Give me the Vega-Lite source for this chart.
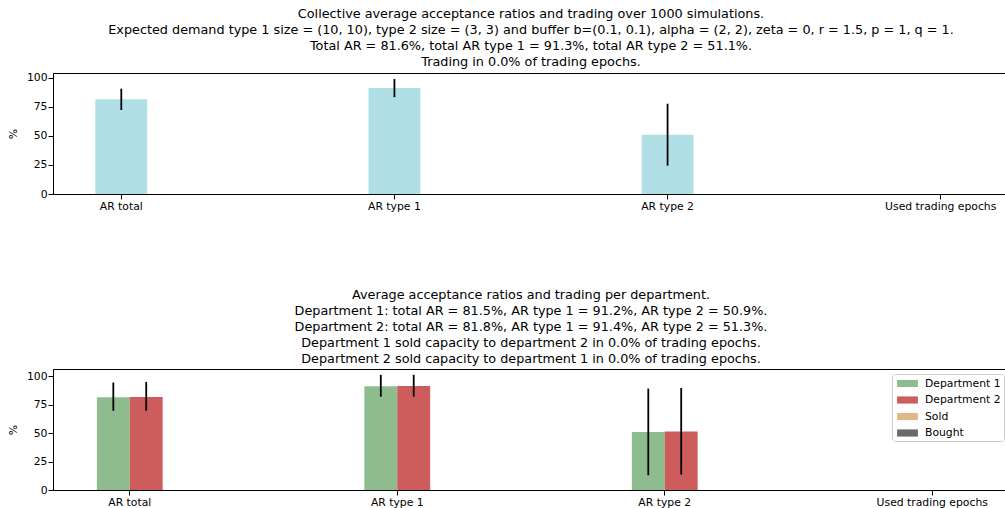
{
  "$schema": "https://vega.github.io/schema/vega-lite/v6.json",
  "padding": {"left": 6, "top": 7, "right": 0, "bottom": 0},
  "background": "white",
  "datasets": {
    "overall": [
      {"metric": "AR total", "value": 81.6, "lo": 72.4, "hi": 90.8},
      {"metric": "AR type 1", "value": 91.3, "lo": 83.5, "hi": 99.1},
      {"metric": "AR type 2", "value": 51.1, "lo": 24.4, "hi": 77.8}
    ],
    "perdept": [
      {"metric": "AR total", "dept": "Department 1", "value": 81.5, "lo": 69.6, "hi": 94.4},
      {"metric": "AR total", "dept": "Department 2", "value": 81.8, "lo": 69.6, "hi": 95.0},
      {"metric": "AR type 1", "dept": "Department 1", "value": 91.2, "lo": 82.0, "hi": 101.2},
      {"metric": "AR type 1", "dept": "Department 2", "value": 91.4, "lo": 82.0, "hi": 101.2},
      {"metric": "AR type 2", "dept": "Department 1", "value": 50.9, "lo": 13.0, "hi": 89.1},
      {"metric": "AR type 2", "dept": "Department 2", "value": 51.3, "lo": 13.5, "hi": 89.6}
    ]
  },
  "spacing": 76,
  "resolve": {"legend": {"color": "independent"}},
  "vconcat": [
    {
      "width": 956,
      "height": 121,
      "data": {"name": "overall"},
      "title": {
        "text": [
          "Collective average acceptance ratios and trading over 1000 simulations.",
          "Expected demand type 1 size = (10, 10), type 2 size = (3, 3) and buffer b=(0.1, 0.1),  alpha = (2, 2), zeta = 0, r = 1.5, p = 1, q = 1.",
          "Total AR = 81.6%, total AR type 1 = 91.3%, total AR type 2 = 51.1%.",
          "Trading in 0.0% of trading epochs."
        ]
      },
      "encoding": {
        "x": {
          "field": "metric",
          "type": "nominal",
          "sort": null,
          "scale": {
            "domain": ["AR total", "AR type 1", "AR type 2", "Used trading epochs"],
            "paddingInner": 0.81,
            "paddingOuter": 0.155
          },
          "axis": {"title": null}
        },
        "y": {
          "field": "value",
          "type": "quantitative",
          "scale": {"domain": [0, 104.3], "nice": false},
          "axis": {"title": "%", "values": [0, 25, 50, 75, 100]}
        }
      },
      "layer": [
        {
          "mark": {"type": "bar", "color": "#b0e0e6"}
        },
        {
          "mark": {"type": "rule", "color": "black", "strokeWidth": 1.8},
          "encoding": {
            "y": {
              "field": "lo",
              "type": "quantitative",
              "scale": {"domain": [0, 104.3], "nice": false},
              "axis": {"title": "%", "values": [0, 25, 50, 75, 100]}
            },
            "y2": {"field": "hi"}
          }
        }
      ]
    },
    {
      "width": 956,
      "height": 121,
      "data": {"name": "perdept"},
      "title": {
        "text": [
          "Average acceptance ratios and trading per department.",
          "Department 1: total AR = 81.5%, AR type 1 = 91.2%, AR type 2 = 50.9%.",
          "Department 2: total AR = 81.8%, AR type 1 = 91.4%, AR type 2 = 51.3%.",
          "Department 1 sold capacity to department 2 in 0.0% of trading epochs.",
          "Department 2 sold capacity to department 1 in 0.0% of trading epochs."
        ]
      },
      "encoding": {
        "x": {
          "field": "metric",
          "type": "nominal",
          "sort": null,
          "scale": {
            "domain": ["AR total", "AR type 1", "AR type 2", "Used trading epochs"],
            "paddingInner": 0.754,
            "paddingOuter": 0.164
          },
          "axis": {"title": null}
        },
        "xOffset": {
          "field": "dept",
          "type": "nominal",
          "scale": {"domain": ["Department 1", "Department 2"], "paddingInner": 0, "paddingOuter": 0}
        },
        "y": {
          "field": "value",
          "type": "quantitative",
          "scale": {"domain": [0, 106.3], "nice": false},
          "axis": {"title": "%", "values": [0, 25, 50, 75, 100]}
        }
      },
      "layer": [
        {
          "mark": {"type": "bar"},
          "encoding": {
            "color": {
              "field": "dept",
              "type": "nominal",
              "scale": {
                "domain": ["Department 1", "Department 2", "Sold", "Bought"],
                "range": ["#8fbc8f", "#cd5c5c", "#deb887", "#696969"]
              },
              "legend": {
                "title": null,
                "orient": "top-right",
                "offset": 5,
                "padding": 3,
                "symbolOffset": 6,
                "strokeColor": "#cccccc",
                "fillColor": "white",
                "cornerRadius": 3,
                "symbolType": "M-1.6,-0.55L1.6,-0.55L1.6,0.55L-1.6,0.55Z",
                "symbolSize": 169,
                "symbolStrokeWidth": 0,
                "labelFontSize": 10.8,
                "labelColor": "black",
                "labelOffset": 11,
                "rowPadding": 4.5
              }
            }
          }
        },
        {
          "mark": {"type": "rule", "color": "black", "strokeWidth": 1.8},
          "encoding": {
            "y": {
              "field": "lo",
              "type": "quantitative",
              "scale": {"domain": [0, 106.3], "nice": false},
              "axis": {"title": "%", "values": [0, 25, 50, 75, 100]}
            },
            "y2": {"field": "hi"}
          }
        }
      ]
    }
  ],
  "config": {
    "font": "DejaVu Sans",
    "view": {"stroke": "black", "strokeWidth": 1},
    "title": {
      "fontSize": 12.8,
      "fontWeight": "normal",
      "color": "black",
      "anchor": "middle",
      "lineHeight": 16,
      "offset": 3
    },
    "axis": {
      "grid": false,
      "labelFontSize": 10.8,
      "labelColor": "black",
      "tickColor": "black",
      "tickSize": 5,
      "labelPadding": 1,
      "domainColor": "black",
      "titleFontSize": 10.8,
      "titleFontWeight": "normal",
      "titleColor": "black",
      "titlePadding": 8,
      "labelOverlap": false
    },
    "axisX": {"labelAngle": 0},
    "legend": {"symbolType": "square"}
  }
}
